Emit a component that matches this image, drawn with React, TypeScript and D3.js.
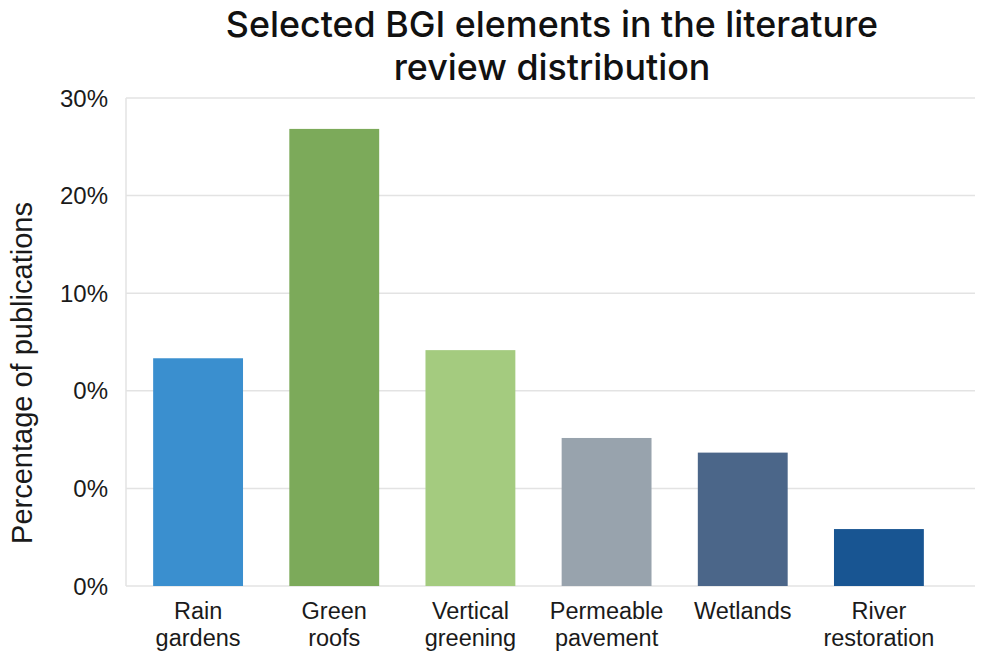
import { useEffect, useRef } from 'react';
import * as d3 from 'd3';

const categories = [
  ['Rain', 'gardens'],
  ['Green', 'roofs'],
  ['Vertical', 'greening'],
  ['Permeable', 'pavement'],
  ['Wetlands'],
  ['River', 'restoration'],
];
const values = [14.0, 28.1, 14.5, 9.1, 8.2, 3.5];
const barColors = ['#3a8fcf', '#7caa5a', '#a4cb7f', '#98a3ad', '#4b6689', '#185592'];
const tickValues = [0, 6, 12, 18, 24, 30];
const tickLabels = ['0%', '0%', '0%', '10%', '20%', '30%'];
const titleLines = ['Selected BGI elements in the literature', 'review distribution'];
const yTitle = 'Percentage of publications';

export default function App() {
  const svgRef = useRef<SVGSVGElement>(null);

  useEffect(() => {
    if (!svgRef.current) return;
    const svg = d3.select(svgRef.current);
    svg.selectAll('*').remove();

    const width = 981;
    const height = 654;
    const plot = { left: 126, right: 975, top: 98, bottom: 586 };
    const font = '"Liberation Sans", Arial, sans-serif';

    svg.append('rect').attr('width', width).attr('height', height).attr('fill', '#fff');

    const x = d3.scaleBand<number>()
      .domain(d3.range(categories.length))
      .range([130, 947])
      .paddingInner(0.34)
      .paddingOuter(0.17);

    const y = d3.scaleLinear().domain([0, 30]).range([plot.bottom, plot.top]);

    // gridlines
    svg.append('g')
      .selectAll('line')
      .data(tickValues)
      .enter().append('line')
      .attr('x1', plot.left)
      .attr('x2', plot.right)
      .attr('y1', d => y(d))
      .attr('y2', d => y(d))
      .attr('stroke', '#e3e3e3')
      .attr('stroke-width', 1.5);

    svg.append('line')
      .attr('x1', plot.left).attr('x2', plot.left)
      .attr('y1', plot.top).attr('y2', plot.bottom)
      .attr('stroke', '#e3e3e3').attr('stroke-width', 1.5);

    // tick labels
    svg.append('g')
      .selectAll('text')
      .data(tickValues)
      .enter().append('text')
      .attr('x', 108)
      .attr('y', d => y(d))
      .attr('dy', '0.36em')
      .attr('text-anchor', 'end')
      .attr('font-family', font)
      .attr('font-size', 24)
      .attr('fill', '#1a1a1a')
      .text((_d, i) => tickLabels[i]);

    // bars
    svg.append('g')
      .selectAll('rect')
      .data(values)
      .enter().append('rect')
      .attr('x', (_d, i) => x(i)!)
      .attr('y', d => y(d))
      .attr('width', x.bandwidth())
      .attr('height', d => y(0) - y(d))
      .attr('fill', (_d, i) => barColors[i]);

    // category labels
    const cat = svg.append('g')
      .selectAll('text')
      .data(categories)
      .enter().append('text')
      .attr('x', (_d, i) => x(i)! + x.bandwidth() / 2)
      .attr('y', 619)
      .attr('text-anchor', 'middle')
      .attr('font-family', font)
      .attr('font-size', 23.5)
      .attr('fill', '#1a1a1a');
    cat.selectAll('tspan')
      .data(d => d)
      .enter().append('tspan')
      .attr('x', function () { return (this.parentNode as SVGTextElement).getAttribute('x'); })
      .attr('dy', (_d, i) => (i === 0 ? 0 : 27))
      .text(d => d);

    // y axis title
    svg.append('text')
      .attr('transform', `translate(32,373) rotate(-90)`)
      .attr('text-anchor', 'middle')
      .attr('font-family', font)
      .attr('font-size', 29)
      .attr('fill', '#1a1a1a')
      .text(yTitle);

    // title
    svg.append('g')
      .selectAll('text')
      .data(titleLines)
      .enter().append('text')
      .attr('x', 552)
      .attr('y', (_d, i) => 37 + i * 43)
      .attr('text-anchor', 'middle')
      .attr('font-family', 'Inter, "Liberation Sans", sans-serif')
      .attr('font-weight', 500)
      .attr('font-size', 35.8)
      .attr('fill', '#111')
      .text(d => d);
  }, []);

  return (
    <svg
      ref={svgRef}
      width={981}
      height={654}
      style={{ position: 'absolute', left: 0, top: 0, display: 'block' }}
    ></svg>
  );
}
